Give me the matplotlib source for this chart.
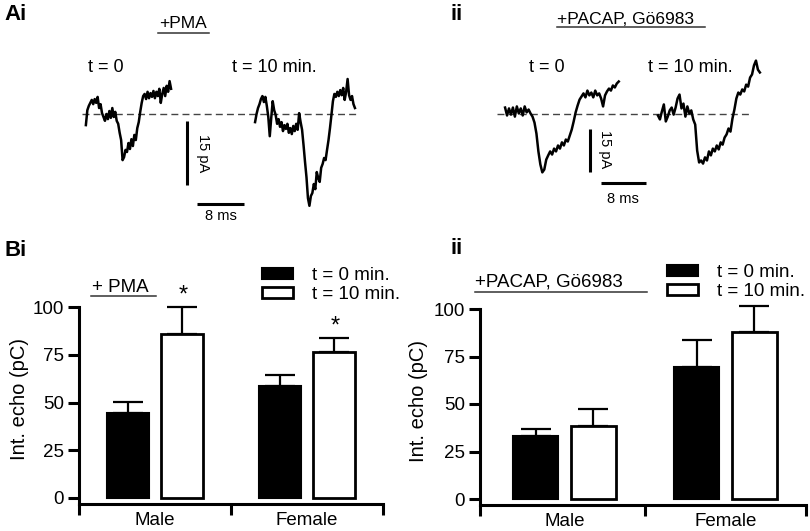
import numpy as np
import matplotlib
matplotlib.use("Agg")
import matplotlib.pyplot as plt
from matplotlib.lines import Line2D
from matplotlib.patches import Patch

plt.rcParams['font.family'] = ['Liberation Sans', 'DejaVu Sans']

W, H = 810, 531

# ---------------- data ----------------
groups = ["Male", "Female"]
legend_labels = ["t = 0 min.", "t = 10 min."]
yticks = [0, 25, 50, 75, 100]

pma_t0 = [44.5, 58.6]
pma_t0_err = [6.0, 5.8]
pma_t10 = [86.0, 76.4]
pma_t10_err = [14.0, 7.4]
pma_sig = [True, True]

pacap_t0 = [33.2, 69.5]
pacap_t0_err = [3.7, 14.2]
pacap_t10 = [38.4, 87.9]
pacap_t10_err = [9.0, 13.7]

scale_ms = 8
scale_pA = 15

# example currents (pA), sampled every dt ms
dt_pma = 0.25
trace_pma_0 = [-2.6, 0.9, 1.9, 2.6, 3.3, 2.3, 3.5, 2.6, 4.0, 1.4, 2.3, 0.2, -0.7, -1.6,
               0.0, -1.2, 0.7, -0.9, 1.4, -0.7, 0.5, -1.6, -2.3, -4.4, -6.1, -10.8, -10.1,
               -8.4, -8.9, -6.8, -8.2, -5.9, -7.5, -4.9, -6.1, -3.3, -1.9, 0.5, 2.6, 4.2,
               4.7, 3.5, 5.2, 3.7, 4.9, 4.0, 5.4, 3.7, 5.2, 4.2, 5.9, 2.6, 4.7, 6.1, 4.2,
               6.6, 5.2, 7.7, 5.9]
trace_pma_10 = [-1.9, 0.0, 1.4, 2.3, 3.5, 4.2, 2.8, 4.0, 1.9, -0.7, -5.2, -0.9, 3.0, 0.9,
                -0.2, -2.3, -1.2, -3.0, -1.9, -4.0, -2.6, -3.5, -2.3, -4.4, -3.3, -4.7,
                -2.8, -4.0, -2.3, -3.7, 0.2, -1.9, -3.7, -7.3, -11.2, -14.8, -19.7, -21.5,
                -19.2, -18.5, -16.4, -17.6, -13.6, -15.0, -15.9, -12.6, -11.7, -10.3,
                -10.8, -8.4, -6.1, -3.3, -0.2, 3.0, 4.7, 4.0, 5.2, 4.2, 5.6, 4.4, 6.1,
                3.3, 5.2, 8.2, 4.4, 3.3, 4.2, 2.3, 1.4]

dt_pacap = 0.35
trace_pacap_0 = [2.1, -0.7, 1.8, -0.4, 2.1, -1.1, 2.5, 0.0, 1.8, -0.7, 2.5, 0.4, 1.4, 0.0,
                 -1.1, -3.2, -7.1, -13.4, -18.0, -20.8, -19.8, -16.3, -14.8, -13.4, -14.5,
                 -12.4, -13.4, -11.3, -12.4, -10.2, -11.3, -9.2, -9.9, -7.8, -5.7, -2.8,
                 0.4, 2.8, 4.9, 6.0, 7.1, 5.7, 8.1, 6.4, 7.4, 5.7, 8.1, 6.4, 7.1, 5.3, 2.5,
                 6.4, 7.8, 8.8, 8.1, 9.9, 9.2, 10.6, 11.3]
trace_pacap_10 = [-0.7, -2.1, 0.7, 3.2, -2.8, -1.1, 1.1, 2.1, -0.4, 2.1, 5.3, 6.7, 1.8,
                  3.5, -1.1, 2.5, 0.0, 1.1, -2.1, -3.9, -13.1, -17.3, -16.6, -17.7, -15.5,
                  -16.6, -13.4, -14.8, -12.4, -13.4, -11.3, -12.7, -10.2, -11.0, -8.5,
                  -7.4, -5.3, -6.4, -1.8, 1.4, 5.3, 7.4, 6.7, 8.5, 7.8, 10.2, 9.5, 12.7,
                  13.8, 17.0, 18.7, 15.5, 14.5]

# ---------------- figure ----------------
fig = plt.figure(figsize=(W / 100, H / 100), dpi=100)


def fx(x):
    return x / W


def fy(y):
    return 1 - y / H


def px_axes(left, top, right, bottom):
    return fig.add_axes([fx(left), fy(bottom), (right - left) / W, (bottom - top) / H])


def trace_axes(left, top, right, bottom, base_y, px_ms, px_pA):
    ax = px_axes(left, top, right, bottom)
    ax.set_xlim(0, (right - left) / px_ms)
    ax.set_ylim((base_y - bottom) / px_pA, (base_y - top) / px_pA)
    ax.axis('off')
    return ax


def underline(x0, x1, y):
    fig.add_artist(Line2D([fx(x0), fx(x1)], [fy(y), fy(y)], color='#333333', lw=1.1))


def draw_trace_panel(ax, traces, dt, starts, dash_span, vbar, hbar, vtxt, htxt):
    ax.axhline(0, xmin=dash_span[0], xmax=dash_span[1], color='#444444', lw=1.0,
               ls=(0, (5, 3)), zorder=1)
    for tr, st in zip(traces, starts):
        t = st + np.arange(len(tr)) * dt
        ax.plot(t, tr, color='black', lw=1.8, zorder=2, clip_on=False)
    vx, vy = vbar
    ax.plot([vx, vx], [vy, vy - scale_pA], color='black', lw=2.2, solid_capstyle='butt')
    hx, hy = hbar
    ax.plot([hx, hx + scale_ms], [hy, hy], color='black', lw=2.2, solid_capstyle='butt')
    ax.text(vtxt[0], vtxt[1], f"{scale_pA} pA", rotation=-90, ha='center', va='center',
            fontsize=10.5)
    ax.text(htxt[0], htxt[1], f"{scale_ms} ms", ha='center', va='center', fontsize=10.5)


# ---- panel Ai ----
axA1 = trace_axes(80, 40, 370, 215, 114, 5.875, 4.27)
draw_trace_panel(axA1, [trace_pma_0, trace_pma_10], dt_pma, [1.0, 29.8],
                 (2 / 290, 278 / 290), (18.2, -1.6), (19.9, -21.1), (20.9, -9.1), (24.0, -23.9))

# ---- panel Aii ----
axA2 = trace_axes(495, 40, 775, 215, 113.5, 5.6, 2.83)
draw_trace_panel(axA2, [trace_pacap_0, trace_pacap_10], dt_pacap, [1.8, 29.1],
                 (2 / 280, 255 / 280), (17.0, -5.5), (18.9, -24.6), (19.6, -12.5), (22.9, -30.2))

# A texts
fig.text(fx(4), fy(14), "Ai", fontsize=16, fontweight='bold', ha='left', va='center')
fig.text(fx(451), fy(14), "ii", fontsize=16, fontweight='bold', ha='left', va='center')
fig.text(fx(183), fy(24), "+PMA", fontsize=12.5, ha='center', va='center')
underline(158, 209, 33)
fig.text(fx(557), fy(19), "+PACAP, Gö6983", fontsize=12.5, ha='left', va='center')
underline(557, 705, 27)
for (x, y, s) in [(88, 67, "t = 0"), (232, 67, "t = 10 min."),
                  (529, 68, "t = 0"), (648, 68, "t = 10 min.")]:
    fig.text(fx(x), fy(y), s, fontsize=13, ha='left', va='center')


# ---------------- bar panels ----------------
def bar_panel(box, y0px, xlim, off, width, t0, t0e, t10, t10e, stars, leg_pos, ylab_x):
    left, top, right, bottom = box
    ax = px_axes(left, top, right, bottom)
    ppu = (y0px - top) / 100.0
    ax.set_ylim(-(bottom - y0px) / ppu, 100)
    ax.set_xlim(*xlim)
    x = np.arange(len(groups))
    ax.errorbar(x - off, t0, yerr=[np.zeros(len(t0)), t0e], fmt='none', ecolor='black',
                elinewidth=1.6, capsize=10.5, capthick=1.6, zorder=1, clip_on=False)
    ax.errorbar(x + off, t10, yerr=[np.zeros(len(t10)), t10e], fmt='none', ecolor='black',
                elinewidth=1.6, capsize=10.5, capthick=1.6, zorder=1, clip_on=False)
    ax.bar(x - off, t0, width=width, color='black', edgecolor='black', lw=1.5, zorder=2)
    ax.bar(x + off, t10, width=width, color='white', edgecolor='black', lw=2.0, zorder=2)
    if stars is not None:
        for xi, v, e, s in zip(x + off, t10, t10e, stars):
            if s:
                ax.annotate("*", xy=(xi, v + e), xytext=(1, 0), textcoords='offset points',
                            ha='center', va='bottom', fontsize=17, annotation_clip=False)
    for s in ['top', 'right']:
        ax.spines[s].set_visible(False)
    for s in ['left', 'bottom']:
        ax.spines[s].set_linewidth(2.2)
    ax.spines['left'].set_bounds(ax.get_ylim()[0], 100)
    ax.set_yticks(yticks)
    ax.set_yticklabels([str(v) for v in yticks])
    ax.tick_params(axis='y', direction='out', length=8, width=2.2, labelsize=13.5, pad=3)
    ax.set_xticks([xlim[0], 0.5, xlim[1]])
    ax.set_xticklabels([])
    ax.tick_params(axis='x', which='major', direction='out', length=8, width=2.2)
    ax.set_xticks(x, minor=True)
    ax.set_xticklabels(groups, minor=True)
    ax.tick_params(axis='x', which='minor', length=0, labelsize=13.5, pad=6)
    ax.set_ylabel("Int. echo (pC)", fontsize=14.5)
    ax.yaxis.set_label_coords((ylab_x - left) / (right - left), 0.5 + 6 / (bottom - top))
    handles = [Patch(facecolor='black', edgecolor='black', lw=1.5),
               Patch(facecolor='white', edgecolor='black', lw=2.0)]
    ax.legend(handles, legend_labels, loc='upper left', frameon=False,
              bbox_to_anchor=(fx(leg_pos[0]), fy(leg_pos[1])), bbox_transform=fig.transFigure,
              fontsize=13.5, handlelength=1.65, handleheight=0.55, handletextpad=1.0,
              labelspacing=0.12, borderpad=0, borderaxespad=0)
    return ax


axB1 = bar_panel((79, 307, 383, 504), 498, (-0.5, 1.5), 0.177, 0.28,
                 pma_t0, pma_t0_err, pma_t10, pma_t10_err, pma_sig, (262, 267), 29)
axB2 = bar_panel((480, 309, 806, 505), 499, (-0.525, 1.5), 0.18, 0.28,
                 pacap_t0, pacap_t0_err, pacap_t10, pacap_t10_err, None, (667, 264), 428)

fig.text(fx(4), fy(250), "Bi", fontsize=16, fontweight='bold', ha='left', va='center')
fig.text(fx(451), fy(248), "ii", fontsize=16, fontweight='bold', ha='left', va='center')
fig.text(fx(92), fy(287), "+ PMA", fontsize=13.5, ha='left', va='center')
underline(91, 156, 296)
fig.text(fx(475), fy(282), "+PACAP, Gö6983", fontsize=13.5, ha='left', va='center')
underline(475, 647, 292)

fig.savefig("out.png", dpi=100)
